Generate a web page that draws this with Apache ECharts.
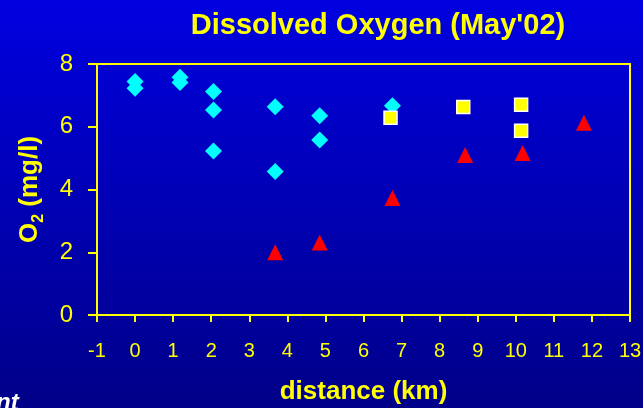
<!DOCTYPE html>
<html><head><meta charset="utf-8">
<script src="https://cdn.jsdelivr.net/npm/echarts@6/dist/echarts.min.js"></script>
<style>html,body{margin:0;padding:0;background:#0000c8}#c{width:643px;height:408px}</style>
</head><body><div id="c"></div>
<script>
const titleText = "Dissolved Oxygen (May'02)";
const xName = "distance (km)";
const xTicks = [-1, 13, 1];
const yTicks = [0, 8, 2];
// series: [distance km, O2 mg/l]
const diamondsX = [0, 0, 1.18, 1.18, 2.06, 2.06, 2.06, 3.68, 3.68, 4.85, 4.85, 6.76];
const diamondsY = [7.44, 7.23, 7.58, 7.41, 7.12, 6.53, 5.23, 6.64, 4.57, 6.35, 5.58, 6.67];
const squaresX = [6.71, 8.62, 10.14, 10.14];
const squaresY = [6.29, 6.63, 6.70, 5.87];
const trianglesX = [3.68, 4.85, 6.76, 8.67, 10.18, 11.79];
const trianglesY = [2.00, 2.31, 3.73, 5.10, 5.16, 6.13];

const zip = (a, b) => a.map((v, i) => [v, b[i]]);
const chart = echarts.init(document.getElementById('c'), null, {renderer: 'canvas'});
const yellow = '#ffff00';
const ff = 'Liberation Sans, Arial';
chart.setOption({
  backgroundColor: new echarts.graphic.LinearGradient(0, 0, 0, 1, [
    {offset: 0, color: '#0000e0'}, {offset: 1, color: '#000088'}
  ]),
  animation: false,
  title: {
    text: titleText, left: 373, top: 6, textAlign: 'center',
    textStyle: {color: yellow, fontFamily: ff, fontWeight: 'bold', fontSize: 29}
  },
  graphic: [{
    type: 'text', left: -4, top: 391,
    style: {text: 'nt', fill: '#ffffff', font: 'italic bold 24px "Liberation Sans", Arial'}
  }],
  grid: {left: 97, right: 13, top: 64, bottom: 93, show: true, containLabel: false, outerBoundsMode: 'none',
         borderColor: yellow, borderWidth: 2, backgroundColor: 'transparent'},
  xAxis: {
    type: 'value', min: xTicks[0], max: xTicks[1], interval: xTicks[2],
    name: xName, nameLocation: 'middle', nameGap: 64,
    nameTextStyle: {color: yellow, fontFamily: ff, fontWeight: 'bold', fontSize: 26},
    axisLine: {show: true, onZero: false, lineStyle: {color: yellow, width: 2}},
    axisTick: {show: true, length: 7, lineStyle: {color: yellow, width: 2}},
    axisLabel: {color: yellow, fontFamily: ff, fontSize: 20, margin: 26},
    splitLine: {show: false}
  },
  yAxis: {
    type: 'value', min: yTicks[0], max: yTicks[1], interval: yTicks[2],
    name: '{a|O}{b|2}{a| (mg/l)}', nameLocation: 'middle', nameGap: 54, nameRotate: 90,
    nameTextStyle: {
      color: yellow,
      rich: {
        a: {color: yellow, fontFamily: ff, fontWeight: 'bold', fontSize: 26, verticalAlign: 'bottom'},
        b: {color: yellow, fontFamily: ff, fontWeight: 'bold', fontSize: 16, verticalAlign: 'bottom', padding: [0, 0, -4, 0]}
      }
    },
    axisLine: {show: true, onZero: false, lineStyle: {color: yellow, width: 2}},
    axisTick: {show: true, length: 9, lineStyle: {color: yellow, width: 2}},
    axisLabel: {color: yellow, fontFamily: ff, fontSize: 24, margin: 24},
    splitLine: {show: false}
  },
  series: [
    {type: 'scatter', data: zip(diamondsX, diamondsY), symbol: 'diamond', symbolSize: 17,
     itemStyle: {color: '#00ffff', opacity: 1}},
    {type: 'scatter', data: zip(squaresX, squaresY), symbol: 'rect', symbolSize: 13,
     itemStyle: {color: yellow, borderColor: '#ffffff', borderWidth: 1.5, opacity: 1}},
    {type: 'scatter', data: zip(trianglesX, trianglesY), symbol: 'triangle', symbolSize: 16,
     itemStyle: {color: '#ff0000', opacity: 1}}
  ]
});
</script></body></html>
